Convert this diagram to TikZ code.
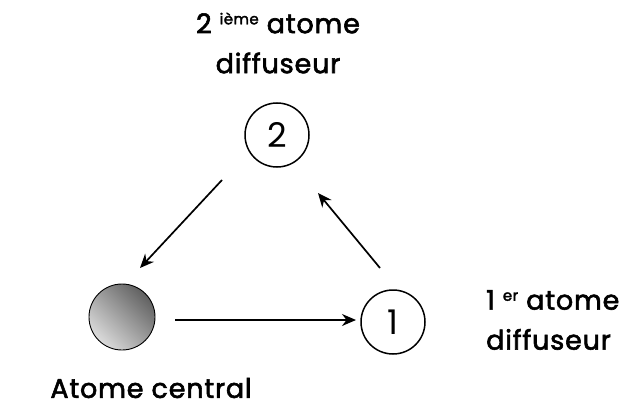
\documentclass[tikz,border=0pt]{standalone}
\usepackage{fontspec}
\setmainfont{Poppins}
\newfontfamily\lblfont{Poppins}[FakeBold=2.2,LetterSpace=3]
\usetikzlibrary{arrows.meta}
\begin{document}
\begin{tikzpicture}[x=1pt,y=-1pt,
  atom/.style={circle,draw,line width=1.5pt,minimum size=64pt,inner sep=0pt,font=\fontsize{34}{34}\selectfont},
  lbl/.style={font=\lblfont\fontsize{27}{40}\selectfont,align=center,inner sep=0pt},
  arr/.style={line width=1.7pt,-{Stealth[length=14pt,width=12pt]}}]
\useasboundingbox (0,0) rectangle (634,409);
\node[atom] (a2) at (277,135) {2};
\node[atom] (a1) at (393,322) {1};
\node[atom,line width=0.9pt,minimum size=66pt,shading=axis,left color=black!62,right color=black!14,shading angle=-45] (ac) at (122,317) {};
\node[lbl] (t2) at (278,43) {2 \raisebox{0.6ex}{\fontsize{15}{15}\selectfont ième} atome\\diffuseur};
\node[lbl,align=left,anchor=west] (t1) at (486,320) {1 \raisebox{0.6ex}{\fontsize{15}{15}\selectfont er} atome\\diffuseur};
\node[lbl] (tc) at (151,388) {Atome central};
\coordinate (s1) at (222,180);
\coordinate (e1) at (140,268);
\coordinate (s2) at (175,320);
\coordinate (e2) at (356,320);
\coordinate (s3) at (380,268);
\coordinate (e3) at (318,193);
\draw[arr] (s1) -- (e1);
\draw[arr] (s2) -- (e2);
\draw[arr] (s3) -- (e3);
\end{tikzpicture}
\end{document}
